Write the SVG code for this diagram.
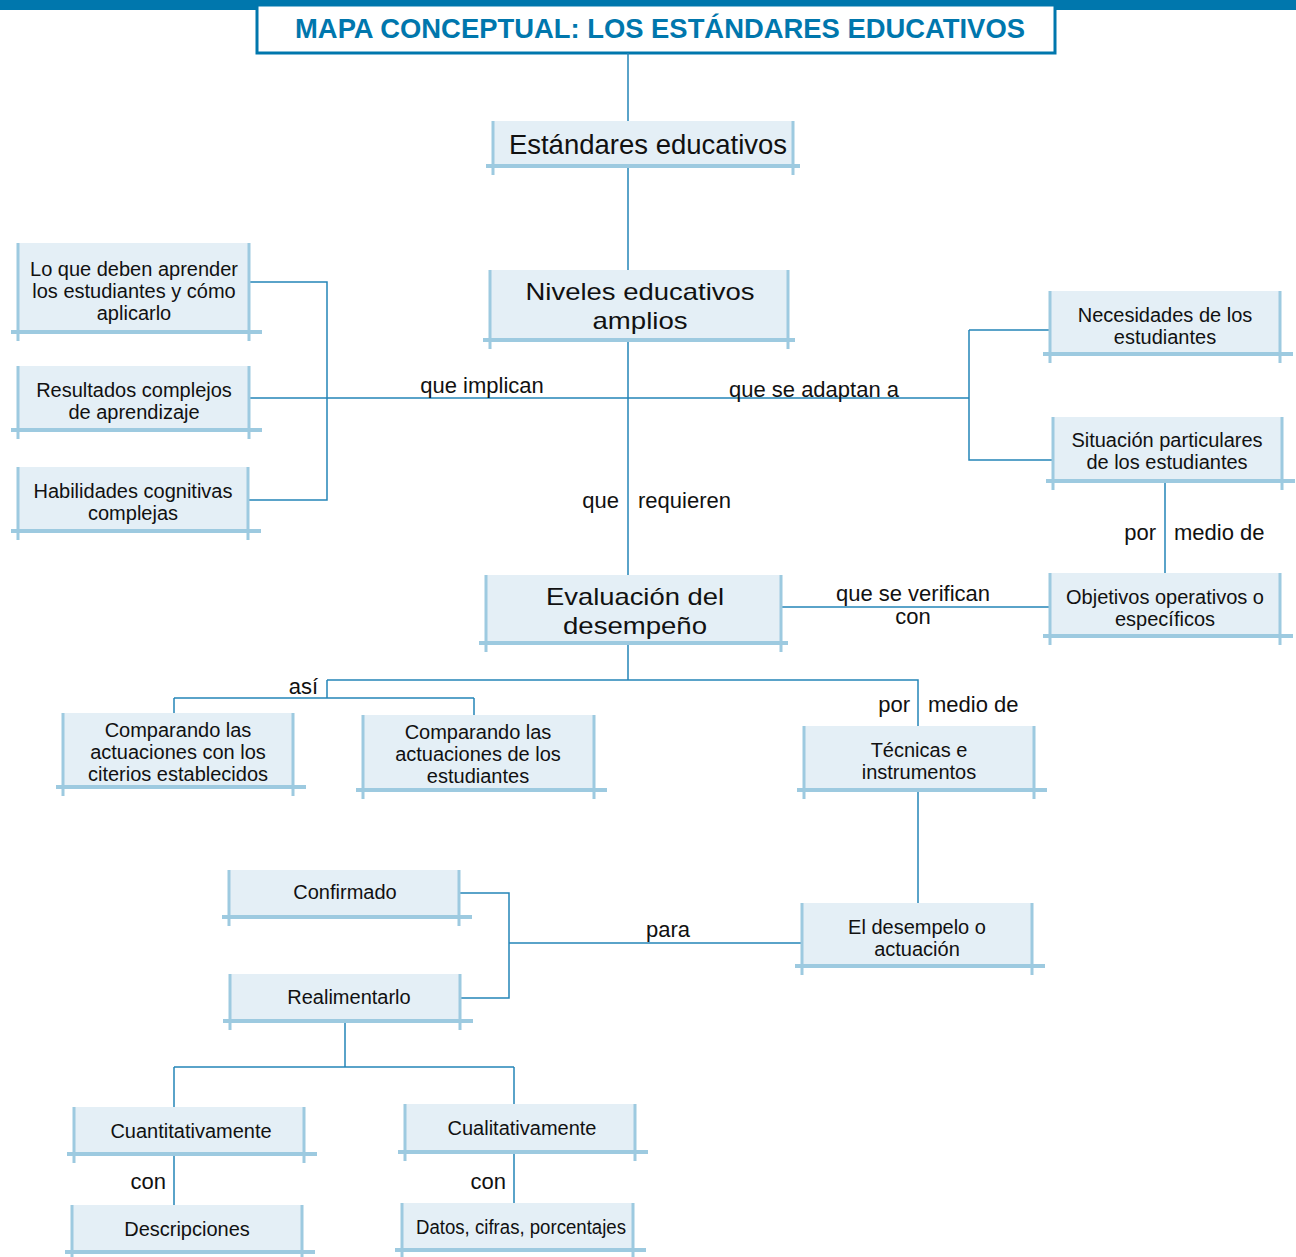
<svg xmlns="http://www.w3.org/2000/svg" width="1296" height="1257" viewBox="0 0 1296 1257">
<style>
.bg{fill:#e4eff6}
.bd{stroke:#9dcae0;stroke-width:3;fill:none}
.bb{stroke:#9dcae0;stroke-width:4;fill:none}
.t{font-family:"Liberation Sans",Arial,sans-serif;font-size:20px;fill:#111;text-anchor:middle}
.tb{font-family:"Liberation Sans",Arial,sans-serif;font-size:27.5px;fill:#111;text-anchor:middle}
.tm{font-family:"Liberation Sans",Arial,sans-serif;font-size:24px;fill:#111;text-anchor:middle}
.lb{font-family:"Liberation Sans",Arial,sans-serif;font-size:22px;fill:#111}
.c{stroke:#2585b8;stroke-width:1.5;fill:none}
</style>
<rect x="0" y="0" width="1296" height="10" fill="#0077ad"/>
<g id="title">
<rect x="257" y="5" width="798" height="48" fill="#fff" stroke="#0077ad" stroke-width="3"/>
<text x="660" y="38" font-family="Liberation Sans,Arial,sans-serif" font-size="27.4" font-weight="bold" fill="#0077ad" text-anchor="middle">MAPA CONCEPTUAL: LOS ESTÁNDARES EDUCATIVOS</text>
</g>
<g id="connectors">
<path class="c" d="M628 53V121M628 166V270M628 340V575"/>
<path class="c" d="M249 398H969M249 282H327V500H249M969 330H1050M969 330V460H1053"/>
<path class="c" d="M1165 481V573M781 607H1050"/>
<path class="c" d="M628 643V680M327 680H918V726M327 680V698M174 698H474M174 698V713M474 698V715"/>
<path class="c" d="M918 790V903M802 943H509M459 893H509V998H460"/>
<path class="c" d="M345 1021V1067M174 1067H514M174 1067V1107M514 1067V1104M174 1154V1205M514 1152V1203"/>
<text class="lb" x="482" y="393" text-anchor="middle">que implican</text>
<text class="lb" x="814" y="397" text-anchor="middle">que se adaptan a</text>
<text class="lb" x="619" y="508" text-anchor="end">que</text>
<text class="lb" x="638" y="508">requieren</text>
<text class="lb" x="1156" y="540" text-anchor="end">por</text>
<text class="lb" x="1174" y="540">medio de</text>
<text class="lb" x="913" y="601" text-anchor="middle">que se verifican</text>
<text class="lb" x="913" y="624" text-anchor="middle">con</text>
<text class="lb" x="318" y="694" text-anchor="end">así</text>
<text class="lb" x="910" y="712" text-anchor="end">por</text>
<text class="lb" x="928" y="712">medio de</text>
<text class="lb" x="668" y="937" text-anchor="middle">para</text>
<text class="lb" x="166" y="1189" text-anchor="end">con</text>
<text class="lb" x="506" y="1189" text-anchor="end">con</text>
</g>
<g id="n1"><rect class="bg" x="493" y="121" width="300" height="45"/><path class="bd" d="M493 121V175M793 121V175"/><path class="bb" d="M486 166H800"/><text class="tb" x="648" y="154">Estándares educativos</text></g>
<g id="n2"><rect class="bg" x="490" y="270" width="298" height="70"/><path class="bd" d="M490 270V349M788 270V349"/><path class="bb" d="M483 340H795"/><text class="tm" x="640" y="300" textLength="229" lengthAdjust="spacingAndGlyphs">Niveles educativos</text><text class="tm" x="640" y="329" textLength="95" lengthAdjust="spacingAndGlyphs">amplios</text></g>
<g id="n3"><rect class="bg" x="18" y="243" width="231" height="89"/><path class="bd" d="M18 243V341M249 243V341"/><path class="bb" d="M11 332H262"/><text class="t"><tspan x="134" y="276">Lo que deben aprender</tspan><tspan x="134" y="298">los estudiantes y cómo</tspan><tspan x="134" y="320">aplicarlo</tspan></text></g>
<g id="n4"><rect class="bg" x="18" y="366" width="231" height="64"/><path class="bd" d="M18 366V439M249 366V439"/><path class="bb" d="M11 430H262"/><text class="t"><tspan x="134" y="397">Resultados complejos</tspan><tspan x="134" y="419">de aprendizaje</tspan></text></g>
<g id="n5"><rect class="bg" x="18" y="467" width="230" height="64"/><path class="bd" d="M18 467V540M248 467V540"/><path class="bb" d="M11 531H261"/><text class="t"><tspan x="133" y="498">Habilidades cognitivas</tspan><tspan x="133" y="520">complejas</tspan></text></g>
<g id="n6"><rect class="bg" x="1050" y="291" width="230" height="63"/><path class="bd" d="M1050 291V363M1280 291V363"/><path class="bb" d="M1043 354H1293"/><text class="t"><tspan x="1165" y="322">Necesidades de los</tspan><tspan x="1165" y="344">estudiantes</tspan></text></g>
<g id="n7"><rect class="bg" x="1053" y="417" width="229" height="64"/><path class="bd" d="M1053 417V490M1282 417V490"/><path class="bb" d="M1046 481H1295"/><text class="t"><tspan x="1167" y="447">Situación particulares</tspan><tspan x="1167" y="469">de los estudiantes</tspan></text></g>
<g id="n8"><rect class="bg" x="1050" y="573" width="230" height="63"/><path class="bd" d="M1050 573V645M1280 573V645"/><path class="bb" d="M1043 636H1293"/><text class="t"><tspan x="1165" y="604">Objetivos operativos o</tspan><tspan x="1165" y="626">específicos</tspan></text></g>
<g id="n9"><rect class="bg" x="486" y="575" width="295" height="68"/><path class="bd" d="M486 575V652M781 575V652"/><path class="bb" d="M479 643H788"/><text class="tm" x="635" y="605" textLength="178" lengthAdjust="spacingAndGlyphs">Evaluación del</text><text class="tm" x="635" y="634" textLength="144" lengthAdjust="spacingAndGlyphs">desempeño</text></g>
<g id="n10"><rect class="bg" x="63" y="713" width="230" height="74"/><path class="bd" d="M63 713V796M293 713V796"/><path class="bb" d="M56 787H306"/><text class="t"><tspan x="178" y="737">Comparando las</tspan><tspan x="178" y="759">actuaciones con los</tspan><tspan x="178" y="781">citerios establecidos</tspan></text></g>
<g id="n11"><rect class="bg" x="363" y="715" width="231" height="75"/><path class="bd" d="M363 715V799M594 715V799"/><path class="bb" d="M356 790H607"/><text class="t"><tspan x="478" y="739">Comparando las</tspan><tspan x="478" y="761">actuaciones de los</tspan><tspan x="478" y="783">estudiantes</tspan></text></g>
<g id="n12"><rect class="bg" x="804" y="726" width="230" height="64"/><path class="bd" d="M804 726V799M1034 726V799"/><path class="bb" d="M797 790H1047"/><text class="t"><tspan x="919" y="757">Técnicas e</tspan><tspan x="919" y="779">instrumentos</tspan></text></g>
<g id="n13"><rect class="bg" x="229" y="870" width="230" height="47"/><path class="bd" d="M229 870V926M459 870V926"/><path class="bb" d="M222 917H472"/><text class="t" x="345" y="899">Confirmado</text></g>
<g id="n14"><rect class="bg" x="230" y="974" width="230" height="47"/><path class="bd" d="M230 974V1030M460 974V1030"/><path class="bb" d="M223 1021H473"/><text class="t" x="349" y="1004">Realimentarlo</text></g>
<g id="n15"><rect class="bg" x="802" y="903" width="230" height="63"/><path class="bd" d="M802 903V975M1032 903V975"/><path class="bb" d="M795 966H1045"/><text class="t"><tspan x="917" y="934">El desempelo o</tspan><tspan x="917" y="956">actuación</tspan></text></g>
<g id="n16"><rect class="bg" x="74" y="1107" width="230" height="47"/><path class="bd" d="M74 1107V1163M304 1107V1163"/><path class="bb" d="M67 1154H317"/><text class="t" x="191" y="1138">Cuantitativamente</text></g>
<g id="n17"><rect class="bg" x="405" y="1104" width="230" height="48"/><path class="bd" d="M405 1104V1161M635 1104V1161"/><path class="bb" d="M398 1152H648"/><text class="t" x="522" y="1135">Cualitativamente</text></g>
<g id="n18"><rect class="bg" x="72" y="1205" width="230" height="47"/><path class="bd" d="M72 1205V1257M302 1205V1257"/><path class="bb" d="M65 1252H315"/><text class="t" x="187" y="1236">Descripciones</text></g>
<g id="n19"><rect class="bg" x="402" y="1203" width="231" height="47"/><path class="bd" d="M402 1203V1257M633 1203V1257"/><path class="bb" d="M395 1250H646"/><text class="t" x="521" y="1234" textLength="210" lengthAdjust="spacingAndGlyphs">Datos, cifras, porcentajes</text></g>
</svg>
